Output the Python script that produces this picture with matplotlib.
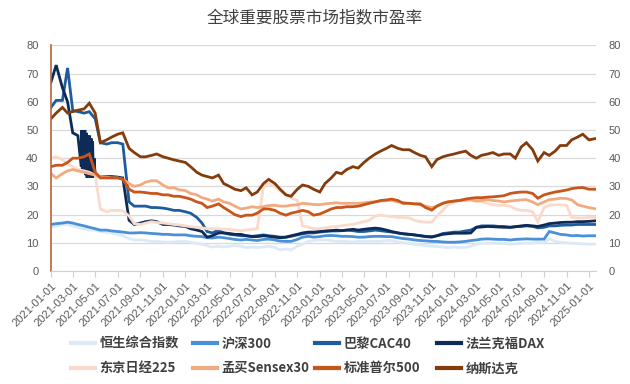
import matplotlib
matplotlib.use("Agg")
import matplotlib.pyplot as plt
from matplotlib.lines import Line2D
import pandas as pd

# semi-monthly sample dates, plus the last day shown
dates = list(pd.date_range("2021-01-01", "2025-01-01", freq="SMS")) + [pd.Timestamp("2025-01-20")]

hang_seng = [15.5, 16, 16.5, 16.5, 16, 15.5, 15, 14.5, 14.5, 14,
             13.8, 13.5, 13, 12.5, 11.5, 11, 11, 10.8, 10.5, 10.5,
             10.3, 10.2, 10.3, 10.5, 10.5, 10.2, 9.8, 9.5, 9, 8.5,
             8.8, 8.5, 8.8, 9, 8.8, 8.3, 8.5, 8.3, 8.5, 8.8,
             8.3, 7.5, 7.8, 7.5, 8.8, 9.5, 10.5, 10.8, 11, 11,
             10.8, 10.5, 10.5, 10.5, 10.3, 10.5, 10.5, 10.6, 10.5, 10.5,
             10.8, 10.8, 10.3, 10, 9.8, 9.5, 9.3, 9, 8.8, 8.7,
             8.5, 8.3, 8.5, 8.3, 8.4, 8.8, 9.5, 9.8, 9.9, 9.8,
             9.8, 9.8, 9.5, 9.6, 9.8, 9.9, 9.9, 10.2, 9.9, 11.5,
             10.5, 10.2, 10, 9.8, 9.8, 9.6, 9.5, 9.5]
hs300 = [16.5, 16.8, 17, 17.3, 17, 16.5, 16, 15.5, 15, 14.5,
         14.5, 14.2, 14, 13.8, 13.5, 13.5, 13.6, 13.5, 13.3, 13.2,
         13, 13, 12.8, 12.8, 12.8, 12.5, 12.3, 12.2, 11.8, 11.7,
         12, 11.8, 11.5, 11.2, 11, 11.2, 11, 10.8, 11.2, 11.3,
         11, 10.6, 10.5, 10.5, 11.2, 12, 12.3, 12, 12.2, 12.5,
         12.6, 12.5, 12.3, 12.3, 12.2, 12, 12, 12.2, 12.3, 12.3,
         12.2, 12.2, 11.8, 11.5, 11.3, 11, 10.8, 10.7, 10.5, 10.5,
         10.3, 10.2, 10.2, 10.3, 10.5, 10.8, 11, 11.3, 11.4, 11.3,
         11.2, 11.2, 11, 11.2, 11.3, 11.4, 11.3, 11.3, 11.3, 14,
         13.5, 13, 12.8, 12.5, 12.6, 12.4, 12.5, 12.5]
cac40 = [58, 60.5, 60.5, 72, 57, 56.5, 56, 56.5, 54, 45.5,
         45, 45.5, 45.5, 45, 24.5, 23, 23, 23, 22.5, 22.5,
         22.3, 22, 21.5, 21.5, 21, 20.5, 19, 17, 14, 13.5,
         14.5, 13.5, 13, 12.8, 12.5, 12.5, 12.3, 12.5, 12.8, 12.5,
         12.3, 12, 12, 12.3, 12.8, 13.2, 13.5, 13.5, 13.8, 14,
         14.2, 14.2, 14.3, 14.5, 14.3, 14, 14, 14.2, 14.5, 14.3,
         14, 13.8, 13.5, 13.2, 13, 12.8, 12.5, 12.3, 12.2, 12.5,
         13.3, 13.5, 13.8, 13.8, 14.2, 14.5, 15.5, 16, 16, 16,
         15.8, 15.8, 15.5, 15.7, 15.8, 16, 15.8, 15.3, 15.5, 16,
         16, 16.2, 16.3, 16.3, 16.5, 16.5, 16.5, 16.5]
dax = [67, 73, 65, 60, 49, 48, 47, 40, 34, 33.5,
       33.5, 33.5, 33.3, 33, 18, 16.5, 17, 17.5, 17.8, 17.5,
       16.5, 16.5, 16.3, 16, 15.8, 15, 14.5, 14, 12, 12.5,
       13.5, 13.5, 13.3, 13, 13, 12.5, 12.2, 12.2, 12.5, 12.3,
       12, 11.8, 12, 12.5, 13, 13.5, 13.8, 13.8, 14, 14.2,
       14.3, 14.5, 14.3, 14.5, 14.8, 14.5, 14.8, 15, 15.2, 15,
       14.5, 14, 13.5, 13.2, 13, 12.8, 12.5, 12.2, 12, 12.5,
       13, 13.2, 13.4, 13.4, 13.4, 13.5, 15.5, 15.6, 15.8, 15.7,
       15.6, 15.5, 15.5, 15.7, 16, 16.2, 16, 15.8, 16.3, 16.8,
       17, 17.2, 17.3, 17.3, 17.5, 17.5, 17.6, 17.8]
# the DAX swings hard between 33 and 50 from late March to end of April 2021
dax_extra_dates = ["2021-03-24", "2021-03-25", "2021-03-27", "2021-03-29", "2021-03-31",
                   "2021-04-03", "2021-04-05", "2021-04-07", "2021-04-09", "2021-04-11",
                   "2021-04-13", "2021-04-16", "2021-04-18", "2021-04-20", "2021-04-22",
                   "2021-04-24", "2021-04-26", "2021-04-28"]
dax_extra = [37, 50, 36, 49, 35, 50, 34, 49, 33, 48,
             34, 48, 33, 47, 33, 46, 33, 40]
nikkei = [40, 40.5, 39.5, 38, 37, 36, 35.5, 35, 34, 22,
          21, 21.5, 21.5, 21.3, 19.5, 16.8, 16.5, 17, 17.5, 17.2,
          17, 16.8, 16.5, 16.3, 16, 15.7, 15.5, 15.3, 15, 15,
          15, 14.8, 14.8, 14.5, 14.3, 14.5, 14.8, 15, 30, 31,
          30, 28.5, 27, 26, 25, 16, 15.5, 15, 15, 15.3,
          15.6, 15.8, 16, 16.3, 16.5, 17, 17.5, 18, 19.5, 19.8,
          19.5, 19.3, 19, 19, 18.8, 18, 17.5, 17.3, 17.3, 19.5,
          21.5, 23.5, 24.5, 25, 25.5, 25.5, 25, 24.5, 24, 23.5,
          23.3, 23.3, 23, 22, 21.5, 21.5, 21, 17.5, 22.5, 23.3,
          23.5, 23.5, 23.3, 19, 18.8, 18.8, 19, 19]
sensex = [34.5, 33, 34.5, 35.5, 36, 35.5, 35, 34.5, 34, 33.5,
          33.3, 33, 33, 32.5, 31, 30, 30.5, 31.5, 32, 32,
          30.5, 29.5, 29.5, 28.8, 28.5, 27.5, 27, 26, 25.5, 24.8,
          25.5, 24.5, 24, 23, 22, 22.3, 22.8, 22.5, 22.8, 23.2,
          23.3, 23, 23, 23.3, 23.5, 24, 23.8, 23.6, 23.5, 23.8,
          24, 24.2, 24, 24, 24, 24, 24.2, 24.4, 24.6, 24.8,
          25, 25, 24.5, 24.3, 24, 23.8, 23.5, 23, 22.5, 23,
          24, 24.5, 24.8, 25, 25, 25.2, 24.8, 25, 25.3, 25,
          24.8, 24.5, 24.8, 25, 25.2, 25.3, 24.5, 23.5, 24.5, 25.3,
          25.5, 25.8, 25.7, 25.2, 23.5, 23, 22.5, 22]
sp500 = [37, 37.5, 37.5, 38.5, 40, 40, 40.5, 41.5, 35, 33,
         33, 33, 33, 32.5, 29, 28, 28, 27.8, 27.5, 27.5,
         27, 27, 26.5, 26.5, 26, 25.5, 24.5, 24, 22.5, 23,
         23.8, 22.5, 21.2, 20, 19.3, 19.8, 19.8, 20.5, 22, 22,
         21.5, 20.5, 19.8, 20.5, 21, 21.5, 21, 19.8, 20.2, 21,
         22, 22.5, 22.5, 22.8, 22.8, 23, 23.5, 24, 24.5, 25,
         25.2, 25.5, 25, 24, 24, 23.8, 23.8, 22.5, 21.6, 23,
         24, 24.5, 24.8, 25, 25.5, 25.8, 26, 26, 26.2, 26.3,
         26.5, 26.7, 27.5, 27.8, 28, 28, 27.5, 25.8, 27, 27.5,
         28, 28.3, 28.7, 29.2, 29.5, 29.6, 29, 29]
nasdaq = [54, 56, 58, 56, 56.5, 57, 57.5, 59.5, 56, 45.5,
          46.5, 47.5, 48.5, 49, 43.5, 42, 40.5, 40.5, 41, 41.5,
          40.5, 40, 39.4, 39, 38.5, 37, 35, 34, 33.5, 33,
          34, 31, 30, 29, 28.5, 29.5, 27, 28, 31, 32.5,
          31, 29, 27, 26.5, 29, 30.5, 30, 29, 28, 31,
          33, 35, 34.5, 36, 37, 36.5, 38.5, 40, 41.5, 42.5,
          43.5, 44.5, 43.5, 43, 43, 42, 41, 40.5, 37, 39.5,
          40.5, 41, 41.5, 42, 42.5, 41, 40, 41, 41.5, 42,
          41, 41.5, 41.5, 40, 44, 45.5, 43, 39, 42, 41,
          42.5, 44.5, 44.5, 46.5, 47.5, 48.5, 46.5, 47]

names = ["恒生综合指数", "沪深300", "巴黎CAC40", "法兰克福DAX",
         "东京日经225", "孟买Sensex30", "标准普尔500", "纳斯达克"]
colors = ["#DCE9F6", "#4A90D9", "#1F5C9E", "#0D2B57",
          "#FADACB", "#F4AA80", "#C8561A", "#843C0C"]

tick_dates = pd.date_range("2021-01-01", "2025-01-01", freq="2MS")

# DAX series with the extra April swings merged in
dax_s = pd.concat([pd.Series(dax, index=dates),
                   pd.Series(dax_extra, index=pd.to_datetime(dax_extra_dates))]).sort_index()

series = [pd.Series(hang_seng, index=dates), pd.Series(hs300, index=dates),
          pd.Series(cac40, index=dates), dax_s,
          pd.Series(nikkei, index=dates), pd.Series(sensex, index=dates),
          pd.Series(sp500, index=dates), pd.Series(nasdaq, index=dates)]

cjk = ["Noto Sans CJK SC", "DejaVu Sans"]

fig = plt.figure(figsize=(6.3, 3.84), dpi=100)
ax = fig.add_axes([51 / 630, 1 - 271 / 384, 545 / 630, 225.6 / 384])

for s, c in zip(series, colors):
    ax.plot(s.index, s.values, color=c, lw=2.0, solid_joinstyle="miter")

ax.set_ylim(0, 80)
ax.set_yticks(range(0, 81, 10))
ax.set_xlim(pd.Timestamp("2021-01-01"), pd.Timestamp("2025-01-20"))
ax.set_xticks(tick_dates)
ax.set_xticklabels([d.strftime("%Y-%m-%d") for d in tick_dates],
                   rotation=45, ha="right", rotation_mode="anchor")
ax.yaxis.grid(True, color="#D9D9D9", lw=0.9)
ax.set_axisbelow(True)

for sp in ["top", "right"]:
    ax.spines[sp].set_visible(False)
ax.spines["bottom"].set_color("#D0D0D0")
ax.spines["left"].set_color("#B8643C")
ax.spines["left"].set_linewidth(1.2)

ax.tick_params(axis="y", length=0, pad=9, labelsize=8, labelcolor="#595959",
               labelright=True)
ax.tick_params(axis="x", length=4, color="#D0D0D0", pad=3, labelsize=8,
               labelcolor="#595959")
for lab in ax.get_xticklabels() + ax.get_yticklabels():
    lab.set_fontfamily("Liberation Sans")

fig.text(0.5, 1 - 19 / 384, "全球重要股票市场指数市盈率", ha="center", va="center",
         fontsize=12, color="#404040", family=cjk)

# four legend columns, two rows each
col_x = [71, 193, 315, 437]
for j in range(4):
    hs = [Line2D([], [], color=colors[j], lw=3), Line2D([], [], color=colors[j + 4], lw=3)]
    leg = fig.legend(hs, [names[j], names[j + 4]], loc="upper left",
                     bbox_to_anchor=(col_x[j] / 630, 1 - 337 / 384),
                     frameon=False, handlelength=1.8, handletextpad=0.35,
                     labelspacing=0.78, borderpad=0, borderaxespad=0,
                     prop={"family": cjk, "size": 9.5, "weight": "bold"})
    for t in leg.get_texts():
        t.set_color("#404040")

fig.savefig("out.png", dpi=100)
